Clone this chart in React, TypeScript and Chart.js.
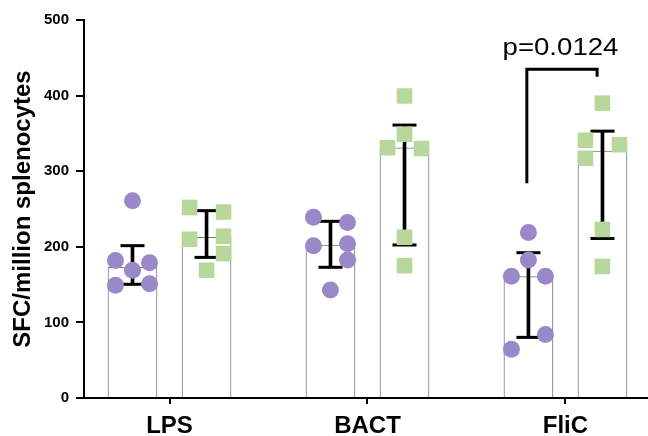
import React, { useEffect, useRef } from 'react';
import { Chart, registerables } from 'chart.js';

Chart.register(...registerables);

const categories = ['LPS', 'BACT', 'FliC'];

// individual animals, per category (purple circles = group 1, green squares = group 2)
const purpleValues = [
  [261, 182, 179, 169, 149, 151],
  [239, 232, 201.5, 204, 182.5, 143],
  [219, 182.5, 161, 161, 84, 64.4],
];
const purpleJitter = [
  [0, -1, 1, 0, -1, 1],
  [-1, 1, -1, 1, 1, 0],
  [0, 0, -1, 1, 1, -1],
];
const greenValues = [
  [252, 246, 210, 214, 191, 169],
  [399.5, 349, 331, 330, 212.6, 175],
  [390, 341, 335, 317, 223, 174],
];
const greenJitter = [
  [-1, 1, -1, 1, 1, 0],
  [0, 0, -1, 1, 0, 0],
  [0, -1, 1, -1, 0, 0],
];

// medians and interquartile ranges
const purpleMedian = [173, 202.4, 160.5];
const purpleLow = [150.4, 172.9, 80.2];
const purpleHigh = [201.5, 233.7, 192.2];
const greenMedian = [212.6, 331, 326.5];
const greenLow = [186, 202.4, 211];
const greenHigh = [247.8, 361, 353];

const yTicks = [0, 100, 200, 300, 400, 500];

// significance annotation
const pLabel = 'p=0.0124';
const bracketX = [1.805, 2.16];
const bracketY = [284, 435, 435, 425];
const pLabelX = 1.975;
const pLabelY = 454;

const GROUP_OFFSET = 0.187;
const JITTER = 0.086;
const FONT = '"Liberation Sans", Arial, Helvetica, sans-serif';
const PURPLE = '#9A88C9';
const GREEN = '#B7D89A';

export default function App() {
  const ref = useRef<HTMLCanvasElement>(null);

  useEffect(() => {
    const canvas = ref.current;
    if (!canvas) return;

    const pos = (ci: number, side: number) => ci + side * GROUP_OFFSET;

    const barData = (med: number[], side: number) =>
      med.map((v, i) => ({ x: pos(i, side), y: v }));
    const errData = (lo: number[], hi: number[], side: number) =>
      lo.map((v, i) => ({ x: pos(i, side), y: [v, hi[i]] }));
    const capData = (lo: number[], hi: number[], side: number) => {
      const out: { x: number; y: number }[] = [];
      lo.forEach((v, i) => {
        out.push({ x: pos(i, side), y: v });
        out.push({ x: pos(i, side), y: hi[i] });
      });
      return out;
    };
    const pointData = (vals: number[][], jit: number[][], side: number) => {
      const out: { x: number; y: number }[] = [];
      vals.forEach((arr, ci) =>
        arr.forEach((v, k) => out.push({ x: pos(ci, side) + jit[ci][k] * JITTER, y: v }))
      );
      return out;
    };

    const pPlugin = {
      id: 'pText',
      afterDatasetsDraw(chart: any) {
        const { ctx, scales } = chart;
        const px = scales.x.getPixelForValue(pLabelX);
        const py = scales.y.getPixelForValue(pLabelY);
        ctx.save();
        ctx.translate(px, py);
        ctx.scale(1.2, 1);
        ctx.font = `23px ${FONT}`;
        ctx.fillStyle = '#000';
        ctx.textAlign = 'center';
        ctx.textBaseline = 'alphabetic';
        ctx.fillText(pLabel, 0, 0);
        ctx.restore();
      },
    };

    const chart = new Chart(canvas, {
      type: 'bar',
      data: {
        datasets: [
          {
            type: 'bar',
            data: barData(purpleMedian, -1) as any,
            backgroundColor: '#ffffff',
            borderColor: '#7a7a7a',
            borderWidth: 1,
            barThickness: 49,
            grouped: false,
            order: 5,
          } as any,
          {
            type: 'bar',
            data: barData(greenMedian, 1) as any,
            backgroundColor: '#ffffff',
            borderColor: '#7a7a7a',
            borderWidth: 1,
            barThickness: 49,
            grouped: false,
            order: 5,
          } as any,
          {
            type: 'bar',
            data: [...errData(purpleLow, purpleHigh, -1), ...errData(greenLow, greenHigh, 1)] as any,
            backgroundColor: '#000000',
            borderWidth: 0,
            barThickness: 3,
            grouped: false,
            order: 4,
          } as any,
          {
            type: 'scatter',
            data: [...capData(purpleLow, purpleHigh, -1), ...capData(greenLow, greenHigh, 1)],
            pointStyle: 'line',
            pointRadius: 12,
            borderColor: '#000000',
            borderWidth: 3,
            showLine: false,
            order: 3,
          } as any,
          {
            type: 'scatter',
            data: pointData(purpleValues, purpleJitter, -1),
            pointStyle: 'circle',
            pointRadius: 8.5,
            backgroundColor: PURPLE,
            borderColor: PURPLE,
            borderWidth: 0,
            order: 2,
          } as any,
          {
            type: 'scatter',
            data: pointData(greenValues, greenJitter, 1),
            pointStyle: 'rect',
            pointRadius: 11,
            backgroundColor: GREEN,
            borderColor: GREEN,
            borderWidth: 0,
            order: 1,
          } as any,
          {
            type: 'scatter',
            data: [
              { x: bracketX[0], y: bracketY[0] },
              { x: bracketX[0], y: bracketY[1] },
              { x: bracketX[1], y: bracketY[2] },
              { x: bracketX[1], y: bracketY[3] },
            ],
            showLine: true,
            borderColor: '#000000',
            borderWidth: 3,
            pointRadius: 0,
            tension: 0,
            borderJoinStyle: 'miter',
            borderCapStyle: 'butt',
            order: 0,
          } as any,
        ],
      },
      options: {
        responsive: false,
        devicePixelRatio: 1,
        animation: false,
        layout: { autoPadding: false, padding: { left: 0, right: 0, top: 20, bottom: 0 } },
        plugins: {
          legend: { display: false },
          tooltip: { enabled: false },
        },
        scales: {
          x: {
            type: 'linear',
            min: -0.432,
            max: 2.417,
            offset: false,
            afterBuildTicks: (scale: any) => {
              scale.ticks = categories.map((_, i) => ({ value: i }));
            },
            afterFit: (scale: any) => {
              scale.height = 38;
              scale.paddingLeft = 0;
              scale.paddingRight = 0;
            },
            ticks: {
              callback: (v: any) => categories[Number(v)] ?? '',
              font: { family: FONT, size: 24, weight: 'bold' },
              color: '#000',
              padding: 8,
              maxRotation: 0,
              autoSkip: false,
            },
            grid: {
              drawOnChartArea: false,
              drawTicks: true,
              offset: false,
              tickLength: 6,
              color: '#000',
              lineWidth: 2,
            },
            border: { display: true, color: '#000', width: 2 },
          } as any,
          y: {
            type: 'linear',
            min: 0,
            max: 500,
            afterBuildTicks: (scale: any) => {
              scale.ticks = yTicks.map((v) => ({ value: v }));
            },
            afterFit: (scale: any) => {
              scale.width = 84;
            },
            ticks: {
              font: { family: FONT, size: 15, weight: 'bold' },
              color: '#000',
              padding: 7,
            },
            grid: {
              drawOnChartArea: false,
              drawTicks: true,
              tickLength: 8,
              color: '#000',
              lineWidth: 2,
            },
            border: { display: true, color: '#000', width: 2 },
            title: {
              display: true,
              text: 'SFC/million splenocytes',
              font: { family: FONT, size: 24, weight: 'bold' },
              color: '#000',
              padding: { top: 9, bottom: 0 },
            },
          } as any,
        },
      },
      plugins: [pPlugin],
    } as any);

    return () => chart.destroy();
  }, []);

  return (
    <div
      style={{
        position: 'fixed',
        left: 0,
        top: 0,
        width: 648,
        height: 436,
        background: '#ffffff',
      }}
    >
      <canvas
        ref={ref}
        width={648}
        height={436}
        style={{ display: 'block', width: 648, height: 436 }}
      />
    </div>
  );
}
